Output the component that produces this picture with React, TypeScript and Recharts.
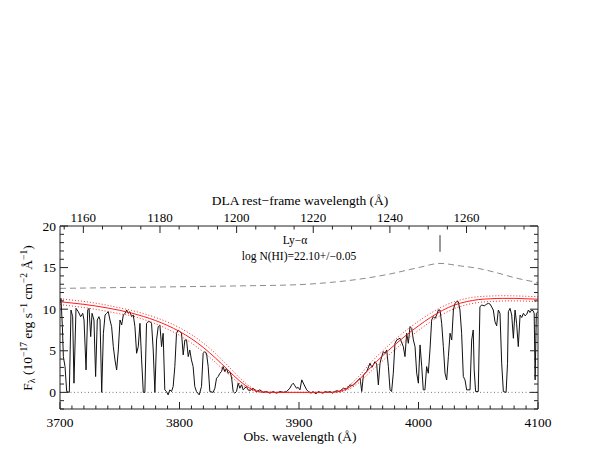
import { LineChart, Line, XAxis, YAxis, ReferenceLine, Customized } from "recharts";

const SERIF = '"Liberation Serif", "Times New Roman", serif';
const AXIS = "#222";
const Z1 = 3.2065; // 1 + z of the DLA

const OBS_MAJOR = [3700, 3800, 3900, 4000, 4100];
const REST_MAJOR = [1160, 1180, 1200, 1220, 1240, 1260];
const FLUX_MAJOR = [0, 5, 10, 15, 20];

// observed spectrum [wavelength, flux]
const SPECTRUM: [number, number][] = [
  [3700, 10.7], [3700.8, 11.3], [3702, 7.9], [3702.8, 4.3], [3704.2, 3.1], [3705.6, 0.1],
  [3707.8, 0], [3709.2, 9.9], [3710.6, 9.1], [3711.7, 1.1], [3713.4, 10.1], [3715.3, 9.7],
  [3717.3, 9.1], [3719, 9.5], [3720.1, 8.7], [3721.8, 2.7], [3723.2, 9.9], [3724.3, 10.1],
  [3725.7, 6.7], [3726.8, 9.5], [3728.4, 8.7], [3729.8, 1.9], [3731.2, 8.7], [3732.6, 9.1],
  [3733.5, 8.7], [3734.9, 0], [3736.3, 7.1], [3737.7, 9.3], [3739, 9.5], [3740.4, 9.7],
  [3741.8, 8.7], [3743.2, 7.9], [3744.6, 5.5], [3746, 3.9], [3747.4, 2.7], [3748.8, 5.1],
  [3750.2, 8.7], [3751.6, 8.1], [3753, 9.3], [3754.4, 9.5], [3755.8, 9.9], [3757.1, 9.5],
  [3758.5, 9.7], [3759.9, 9.1], [3761.3, 9.3], [3762.7, 7.9], [3764.1, 4.7], [3765.5, 5.5],
  [3766.9, 8.3], [3768.3, 3.9], [3769.7, 0], [3771, 0], [3772.4, 8.3], [3773.8, 8.5],
  [3775.2, 8.5], [3776.6, 8.3], [3778, 5.1], [3779.4, 0], [3780.8, 6.3], [3782.2, 7.9],
  [3783.6, 8.1], [3785, 5.5], [3786.3, 7.1], [3787.7, 0.3], [3789.1, 0.1], [3790.5, -0.3],
  [3791.9, 0.3], [3793.3, 0.1], [3794.7, 0.7], [3796.1, 3.1], [3797.5, 7.1], [3798.9, 7.5],
  [3800.3, 7.3], [3801.7, 7.1], [3803.1, 4.5], [3804.5, 6.3], [3805.9, 6.3], [3807.3, 4.3],
  [3808.6, 5.1], [3810, 3.9], [3811.4, 3.1], [3812.8, 0.7], [3814.2, 0.1], [3816.5, -0.3],
  [3818.4, 0.7], [3819.8, 4.7], [3821.2, 4.9], [3822.6, 4.7], [3824, 3.1], [3825.4, 0.1],
  [3828.2, 0], [3829.6, 0.5], [3831, 1.7], [3832.4, 1.9], [3833.8, 2.3], [3835.1, 2.5],
  [3836.5, 3.1], [3837.9, 2.5], [3839.3, 2.9], [3840.7, 2.3], [3842.1, 2.5], [3843.5, 1.9],
  [3844.9, 0.1], [3846.3, -0.1], [3847.7, 0.1], [3849.1, 1.1], [3850.5, 0.5], [3851.9, 0.9],
  [3853.3, 0.3], [3854.7, 0.5], [3856, 0.7], [3857.4, 0.3], [3858.8, 0.2], [3861.6, 0.5],
  [3864.4, 0.1], [3867.2, 0.3], [3870, 0], [3872.8, 0.1], [3875.6, -0.1], [3878.4, 0.1],
  [3881.2, -0.1], [3884, 0.1], [3886.8, 0], [3889.6, 0.1], [3892.4, 0.5], [3893.8, 0.9],
  [3895.2, 1.1], [3896.5, 0.8], [3897.9, 0.5], [3899.3, 0.6], [3900.8, 0.3], [3902.3, 1.5],
  [3904, 1.0], [3906.4, 0.3], [3908, 0.1], [3910, -0.1], [3912, 0.1], [3914, -0.2],
  [3916, 0.1], [3918, 0], [3920, -0.1], [3922, 0.1], [3924, 0], [3926, 0.1],
  [3928, -0.1], [3930, 0.1], [3931.5, 0.2], [3934, 0.1], [3937.1, 0.5], [3940, 0.4],
  [3942.7, 0.9], [3945, 0.8], [3948.3, 1.3], [3951.1, 1.7], [3952.5, 0.1], [3953.9, 2.1],
  [3956.7, 2.5], [3959.4, 3.5], [3961, 3.0], [3963.6, 3.7], [3965, 3.4], [3966.4, 0.9],
  [3967.8, 3.5], [3969.2, 4.3], [3970.6, 4.9], [3972, 4.7], [3973.4, 5.1], [3974.8, 3.1],
  [3976.2, 0.3], [3977.5, 0.1], [3978.9, 2.3], [3980.3, 5.9], [3981.8, 6.3], [3984.5, 6.5],
  [3987.3, 5.5], [3988.7, 4.3], [3990.1, 7.1], [3991.5, 5.9], [3992.9, 7.9], [3994.3, 7.7],
  [3995.7, 6.3], [3997.1, 5.5], [3998.5, 2.3], [3999.9, 1.1], [4001.3, 5.7], [4002.7, 3.1],
  [4004, 0.3], [4005.4, 0.3], [4006.8, 3.1], [4008.2, 2.3], [4009.6, 5.1], [4011, 8.7],
  [4012.4, 9.1], [4013.8, 8.9], [4015.2, 9.3], [4016.6, 9.9], [4018, 9.9], [4019.4, 8.3],
  [4020.8, 5.5], [4022.2, 2.3], [4023.6, 1.5], [4025, 4.3], [4026.4, 7.1], [4027.8, 6.3],
  [4029.2, 9.9], [4030.5, 10.7], [4032, 10.9], [4033.3, 10.9], [4034.7, 9.9], [4036.1, 7.1],
  [4037.5, 1.9], [4038.9, 1.5], [4040.3, 0.3], [4043.1, 0.3], [4044.5, 6.3], [4045.8, 7.5],
  [4046.6, 2.7], [4047.8, 0.1], [4050, 0.1], [4051.4, 10.3], [4053, 10.5], [4055, 10.4],
  [4057, 10.6], [4058.5, 10.7], [4060, 10.6], [4062.6, 9.9], [4064, 8.5], [4065.4, 8.0],
  [4066.8, 9.9], [4068.2, 9.5], [4069.6, 3.5], [4071, 0.1], [4073.3, 0], [4074.5, 3.5],
  [4075.2, 9.7], [4076.6, 10.1], [4078, 9.3], [4079.4, 6.5], [4080.8, 9.9], [4082.1, 8.3],
  [4083.5, 5.5], [4085, 9.3], [4086.4, 9.0], [4087.8, 9.5], [4089.2, 9.2], [4090.6, 9.4],
  [4092, 9.9], [4093.3, 9.6], [4094.7, 9.9], [4096, 9.8], [4096.8, 9.5], [4097.6, 1.5],
  [4098.6, 9.5], [4100, 9.7],
];

// quasar continuum (dashed)
const CONT_W = [3700, 3750, 3800, 3850, 3900, 3925, 3950, 3975, 4000, 4018, 4035, 4050, 4065, 4080, 4100];
const CONT_F = [12.5, 12.6, 12.7, 12.8, 12.95, 13.2, 13.6, 14.2, 15.0, 15.5, 15.2, 14.9, 14.4, 13.8, 13.2];

// DLA fit (solid) and +/- error curves (dotted)
const MODEL_W = [
  3700, 3710, 3720, 3730, 3740, 3750, 3760, 3770, 3780, 3790, 3800, 3810, 3820, 3830,
  3840, 3850, 3860, 3870, 3880, 3890, 3900, 3910, 3920, 3930, 3940, 3950, 3960, 3970,
  3980, 3990, 4000, 4010, 4020, 4030, 4040, 4050, 4060, 4070, 4080, 4090, 4100,
];
const MODEL_FIT = [
  10.9, 10.74, 10.58, 10.38, 10.14, 9.86, 9.53, 9.12, 8.63, 8.04, 7.32, 6.45, 5.39, 4.14,
  2.77, 1.41, 0.41, 0.03, 0, 0, 0, 0, 0, 0.03, 0.43, 1.5, 3.0, 4.4,
  5.7, 6.9, 8.0, 9.0, 9.85, 10.5, 10.9, 11.15, 11.25, 11.3, 11.3, 11.25, 11.2,
];
const MODEL_HI = [
  11.25, 11.1, 10.93, 10.72, 10.46, 10.16, 9.85, 9.46, 9.0, 8.45, 7.77, 6.94, 5.92, 4.68,
  3.27, 1.79, 0.6, 0.06, 0, 0, 0, 0, 0, 0.06, 0.63, 1.92, 3.57, 5.0,
  6.3, 7.5, 8.55, 9.5, 10.3, 10.9, 11.28, 11.5, 11.58, 11.62, 11.6, 11.55, 11.5,
];
const MODEL_LO = [
  10.55, 10.38, 10.2, 9.98, 9.72, 9.45, 9.2, 8.77, 8.24, 7.6, 6.85, 5.93, 4.85, 3.61,
  2.29, 1.08, 0.27, 0.01, 0, 0, 0, 0, 0, 0.01, 0.28, 1.15, 2.5, 3.8,
  5.1, 6.3, 7.45, 8.48, 9.37, 10.07, 10.52, 10.8, 10.92, 10.98, 11.0, 10.97, 10.92,
];

// emission-line marker above the continuum peak
const MARKER = [{ x: 4018, y: 16.9 }, { x: 4018, y: 18.9 }];

const spectrum = SPECTRUM.map(([w, f]) => ({ w, f }));
const continuum = CONT_W.map((w, i) => ({ w, f: CONT_F[i] }));
const fit = MODEL_W.map((w, i) => ({ w, f: MODEL_FIT[i] }));
const fitHi = MODEL_W.map((w, i) => ({ w, f: MODEL_HI[i] }));
const fitLo = MODEL_W.map((w, i) => ({ w, f: MODEL_LO[i] }));
// invisible anchor so the rest-frame axis gets drawn
const restAnchor = REST_MAJOR.map((w) => ({ w, f: 0 }));

const range = (a: number, b: number, s: number) => {
  const out: number[] = [];
  for (let v = a; v <= b + 1e-9; v += s) out.push(Math.round(v * 100) / 100);
  return out;
};
const obsTicks = range(3700, 4100, 10);
const restTicks = range(1155, 1275, 5);
const fluxTicks = range(-2, 20, 1);

function BottomTick({ x, y, payload }: any) {
  const major = OBS_MAJOR.includes(payload.value);
  return (
    <g>
      <line x1={x} x2={x} y1={y} y2={y - (major ? 7 : 3.5)} stroke={AXIS} />
      {major && (
        <text x={x} y={y + 18} textAnchor="middle" fontFamily={SERIF} fontSize={13.5} fill="#000">
          {payload.value}
        </text>
      )}
    </g>
  );
}

function TopTick({ x, y, payload }: any) {
  const major = REST_MAJOR.includes(payload.value);
  return (
    <g>
      <line x1={x} x2={x} y1={y} y2={y + (major ? 7 : 3.5)} stroke={AXIS} />
      {major && (
        <text x={x} y={y - 4} textAnchor="middle" fontFamily={SERIF} fontSize={13} fill="#000">
          {payload.value}
        </text>
      )}
    </g>
  );
}

function LeftTick({ x, y, payload }: any) {
  const major = FLUX_MAJOR.includes(payload.value);
  return (
    <g>
      <line x1={x} x2={x + (major ? 8 : 4)} y1={y} y2={y} stroke={AXIS} />
      {major && (
        <text x={x - 4} y={y + 4.5} textAnchor="end" fontFamily={SERIF} fontSize={13.5} fill="#000">
          {payload.value}
        </text>
      )}
    </g>
  );
}

function RightTick({ x, y, payload }: any) {
  const major = FLUX_MAJOR.includes(payload.value);
  return <line x1={x} x2={x - (major ? 8 : 4)} y1={y} y2={y} stroke={AXIS} />;
}

function Annotations() {
  return (
    <g fontFamily={SERIF} fill="#000">
      <text x={300} y={205} fontSize={13.5} textAnchor="middle">
        DLA rest−frame wavelength (Å)
      </text>
      <text x={300} y={441} fontSize={13.5} textAnchor="middle">
        Obs. wavelength (Å)
      </text>
      <text x={295} y={244} fontSize={11.5} textAnchor="middle">
        Ly−α
      </text>
      <text x={299} y={260} fontSize={11.5} textAnchor="middle">
        log N(HI)=22.10+/−0.05
      </text>
      <text
        x={32}
        y={318}
        fontSize={13.5}
        textAnchor="middle"
        transform="rotate(-90, 32, 318)"
      >
        F<tspan dy={3} fontSize={10}>λ</tspan>
        <tspan dy={-3}> (10</tspan>
        <tspan dy={-5} fontSize={9.5}>−17</tspan>
        <tspan dy={5}> erg s</tspan>
        <tspan dy={-5} fontSize={9.5}>−1</tspan>
        <tspan dy={5}> cm</tspan>
        <tspan dy={-5} fontSize={9.5}>−2</tspan>
        <tspan dy={5}> Å</tspan>
        <tspan dy={-5} fontSize={9.5}>−1</tspan>
        <tspan dy={5}>)</tspan>
      </text>
    </g>
  );
}

export default function App() {
  return (
    <div style={{ position: "absolute", left: 0, top: 0, width: 598, height: 455, background: "#fff" }}>
      <LineChart width={598} height={455} margin={{ top: 186, right: 0, bottom: 0, left: 0 }}>
        <XAxis
          xAxisId="obs"
          type="number"
          dataKey="w"
          domain={[3700, 4100]}
          allowDataOverflow
          ticks={obsTicks}
          interval={0}
          tick={BottomTick}
          tickLine={false}
          tickSize={0}
          tickMargin={0}
          axisLine={{ stroke: AXIS }}
          height={46}
        />
        <XAxis
          xAxisId="rest"
          orientation="top"
          type="number"
          dataKey="w"
          domain={[3700 / Z1, 4100 / Z1]}
          allowDataOverflow
          ticks={restTicks}
          interval={0}
          tick={TopTick}
          tickLine={false}
          tickSize={0}
          tickMargin={0}
          axisLine={{ stroke: AXIS }}
          height={40}
        />
        <YAxis
          yAxisId="flux"
          type="number"
          domain={[-2, 20]}
          allowDataOverflow
          ticks={fluxTicks}
          interval={0}
          tick={LeftTick}
          tickLine={false}
          tickSize={0}
          tickMargin={0}
          axisLine={{ stroke: AXIS }}
          width={60}
        />
        <YAxis
          yAxisId="fluxR"
          orientation="right"
          type="number"
          domain={[-2, 20]}
          allowDataOverflow
          ticks={fluxTicks}
          interval={0}
          tick={RightTick}
          tickLine={false}
          tickSize={0}
          tickMargin={0}
          axisLine={{ stroke: AXIS }}
          width={60}
        />
        <ReferenceLine xAxisId="obs" yAxisId="flux" y={0} stroke="#777" strokeDasharray="1 2.5" />
        <ReferenceLine xAxisId="obs" yAxisId="flux" segment={MARKER} stroke="#333" />
        <Line
          xAxisId="rest"
          yAxisId="fluxR"
          data={restAnchor}
          dataKey="f"
          stroke="none"
          dot={false}
          activeDot={false}
          isAnimationActive={false}
        />
        <Line
          xAxisId="obs"
          yAxisId="flux"
          data={continuum}
          dataKey="f"
          type="monotone"
          stroke="#8c8c8c"
          strokeDasharray="6 4"
          dot={false}
          isAnimationActive={false}
        />
        <Line
          xAxisId="obs"
          yAxisId="flux"
          data={spectrum}
          dataKey="f"
          type="linear"
          stroke="#111"
          strokeWidth={1}
          dot={false}
          isAnimationActive={false}
        />
        <Line
          xAxisId="obs"
          yAxisId="flux"
          data={fitHi}
          dataKey="f"
          type="monotone"
          stroke="#ff2020"
          strokeDasharray="1 2"
          dot={false}
          isAnimationActive={false}
        />
        <Line
          xAxisId="obs"
          yAxisId="flux"
          data={fitLo}
          dataKey="f"
          type="monotone"
          stroke="#ff2020"
          strokeDasharray="1 2"
          dot={false}
          isAnimationActive={false}
        />
        <Line
          xAxisId="obs"
          yAxisId="flux"
          data={fit}
          dataKey="f"
          type="monotone"
          stroke="#ff1a1a"
          dot={false}
          isAnimationActive={false}
        />
        <Customized component={Annotations} />
      </LineChart>
    </div>
  );
}
